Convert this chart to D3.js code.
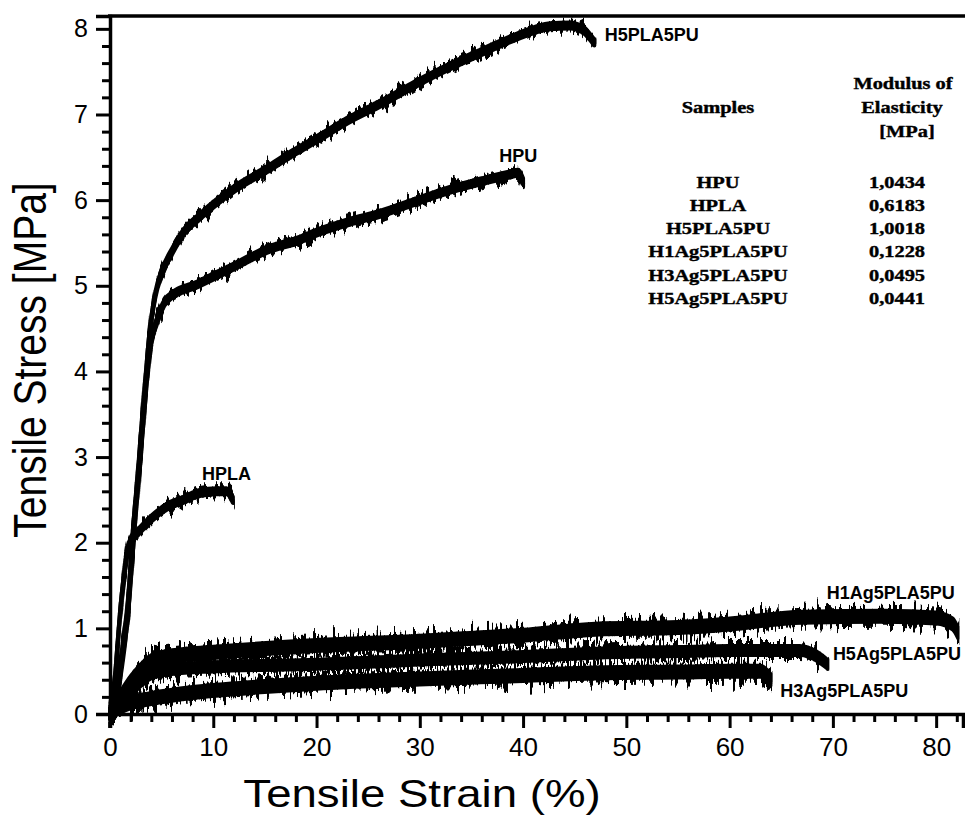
<!DOCTYPE html>
<html>
<head>
<meta charset="utf-8">
<script src="https://cdn.jsdelivr.net/npm/d3@7"></script>
<style>
  body { margin: 0; background: #fff; }
  svg { display: block; }
  .tick text { font-family: "Liberation Sans", Arial, sans-serif; }
</style>
</head>
<body>
<script>
// stress-strain curves, [strain %, stress MPa]
var h5pla5pu = [[0,0],[0.7,0.35],[1.3,0.85],[1.75,1.33],[2.2,2.1],[2.7,2.8],[3.1,3.43],[3.5,4.0],[3.8,4.4],[4.4,4.9],[5,5.15],[6.1,5.42],[7.1,5.62],[8.7,5.81],[11.9,6.12],[15.2,6.36],[17.7,6.55],[20,6.71],[23,6.93],[26.4,7.14],[29.5,7.35],[32.9,7.56],[36,7.73],[39.4,7.91],[42.6,8.03],[44.5,8.04],[45.8,7.99],[46.9,7.84]];
var hpu = [[0.3,0],[1.0,0.45],[1.5,0.9],[1.9,1.4],[2.35,2.15],[2.85,2.85],[3.25,3.45],[3.6,3.95],[3.9,4.3],[4.5,4.57],[5.5,4.84],[8.7,5.03],[11.9,5.22],[15.2,5.42],[18.4,5.54],[20,5.62],[23,5.74],[26.4,5.85],[29.5,5.98],[32.9,6.12],[36,6.22],[38.7,6.3],[39.5,6.32],[40,6.22]];
var hpla = [[0,0],[0.5,0.45],[1.0,1.2],[1.5,1.75],[2.1,2.05],[2.6,2.11],[3.9,2.27],[5.5,2.42],[7.1,2.5],[8.7,2.58],[10.3,2.6],[11.3,2.6],[11.9,2.5]];
var h1ag = [[0,0],[1,0.2],[2,0.38],[3,0.52],[4,0.62],[6,0.68],[10,0.72],[20,0.8],[30,0.85],[40,0.92],[47,0.99],[55,1.01],[60,1.05],[67,1.13],[75,1.14],[80,1.12],[81.6,1.05],[82.1,0.95]];
var h5ag = [[0,0],[1,0.12],[2,0.25],[3,0.38],[4,0.47],[6,0.52],[10,0.55],[20,0.58],[30,0.63],[40,0.67],[47,0.71],[55,0.73],[60,0.74],[66.8,0.74],[68.5,0.67],[69.5,0.58]];
var h3ag = [[0,0],[1,0.08],[2,0.13],[4,0.18],[8,0.25],[15,0.32],[20,0.36],[30,0.41],[40,0.45],[47,0.48],[55,0.49],[60,0.5],[63,0.5],[64,0.4]];

var curveLabels = ["H5PLA5PU", "HPU", "HPLA", "H1Ag5PLA5PU", "H5Ag5PLA5PU", "H3Ag5PLA5PU"];
// label anchor points in data units
var labelPos = [[47.9,7.86],[37.7,6.45],[8.9,2.73],[69.4,1.34],[70.0,0.63],[64.9,0.2]];

// modulus table
var tableSamples = ["HPU", "HPLA", "H5PLA5PU", "H1Ag5PLA5PU", "H3Ag5PLA5PU", "H5Ag5PLA5PU"];
var tableModulus = ["1,0434", "0,6183", "1,0018", "0,1228", "0,0495", "0,0441"];

var xTicks = [0,10,20,30,40,50,60,70,80];
var yTicks = [0,1,2,3,4,5,6,7,8];

var W = 965, H = 826;
var svg = d3.select("body").append("svg").attr("width", W).attr("height", H);

var x = d3.scaleLinear().domain([0, 82.6]).range([110, 963]);
var y = d3.scaleLinear().domain([0, 8.15]).range([714, 16]);

// rough edge filters for the noisy traces (vertical jitter only)
var defs = svg.append("defs");
function noiseFilter(id, freq, amp, seed) {
  var f = defs.append("filter").attr("id", id)
      .attr("x", "-5%").attr("y", "-40%").attr("width", "110%").attr("height", "180%");
  f.append("feTurbulence").attr("type", "fractalNoise").attr("baseFrequency", freq)
      .attr("numOctaves", 2).attr("seed", seed).attr("result", "t");
  f.append("feColorMatrix").attr("in", "t").attr("type", "matrix")
      .attr("values", "0 0 0 0 0.5  0 1 0 0 0  0 0 1 0 0  0 0 0 0 1").attr("result", "m");
  f.append("feDisplacementMap").attr("in", "SourceGraphic").attr("in2", "m")
      .attr("scale", amp).attr("xChannelSelector", "R").attr("yChannelSelector", "G");
}
noiseFilter("noisyA", "0.3 0.03", 24, 3);
noiseFilter("noisyB", "0.3 0.03", 40, 7);

var curves = [
  {d: h5pla5pu, h: 3, sw: 4, f: "noisyA"},
  {d: hpu, h: 3, sw: 4, f: "noisyA"},
  {d: hpla, h: 3, sw: 4, f: "noisyA"},
  {d: h1ag, h: 6, sw: 3, f: "noisyB"},
  {d: h5ag, h: 5, sw: 3, f: "noisyB"},
  {d: h3ag, h: 6, sw: 3, f: "noisyB"}
];

var plot = svg.append("g");
curves.forEach(function(c) {
  var area = d3.area()
      .x(function(d) { return x(d[0]); })
      .y0(function(d) { return y(d[1]) + c.h; })
      .y1(function(d) { return y(d[1]) - c.h; })
      .curve(d3.curveMonotoneX);
  // solid core
  plot.append("path")
      .datum(c.d)
      .attr("d", area)
      .attr("fill", "#000")
      .attr("stroke", "#000")
      .attr("stroke-width", c.sw)
      .attr("stroke-linejoin", "round");
  // spiky copy on top
  plot.append("path")
      .datum(c.d)
      .attr("d", area)
      .attr("fill", "#000")
      .attr("stroke", "#000")
      .attr("stroke-width", c.sw)
      .attr("stroke-linejoin", "round")
      .attr("filter", "url(#" + c.f + ")");
});

// curve labels
svg.append("g").selectAll("text")
  .data(curveLabels)
  .enter().append("text")
  .attr("x", function(d, i) { return x(labelPos[i][0]); })
  .attr("y", function(d, i) { return y(labelPos[i][1]); })
  .attr("font-family", "Liberation Sans, Arial, sans-serif")
  .attr("font-weight", "bold")
  .attr("font-size", 18)
  .attr("fill", "#000")
  .text(function(d) { return d; });

// axes
var xAxis = svg.append("g").attr("transform", "translate(0,714)")
  .call(d3.axisBottom(x).tickValues(xTicks).tickSize(14).tickPadding(10).tickFormat(d3.format("d")));
var xMinor = svg.append("g").attr("transform", "translate(0,714)")
  .call(d3.axisBottom(x).tickValues(d3.range(0, 83, 2).filter(function(v) { return v % 10 != 0; })).tickSize(8).tickFormat(""));
var yAxis = svg.append("g").attr("transform", "translate(110,0)")
  .call(d3.axisLeft(y).tickValues(yTicks).tickSize(14).tickPadding(8).tickFormat(d3.format("d")));
var yMinor = svg.append("g").attr("transform", "translate(110,0)")
  .call(d3.axisLeft(y).tickValues(d3.range(0, 8.1, 0.2).filter(function(v) { return Math.abs(v - Math.round(v)) > 0.01; })).tickSize(8).tickFormat(""));

[xAxis, xMinor, yAxis, yMinor].forEach(function(a) {
  a.select(".domain").attr("stroke-width", 3.5).attr("stroke", "#000");
  a.selectAll(".tick line").attr("stroke-width", 3).attr("stroke", "#000");
});
xMinor.select(".domain").remove();
yMinor.select(".domain").remove();
xAxis.selectAll(".tick text").attr("font-size", 26).attr("fill", "#000");
yAxis.selectAll(".tick text").attr("font-size", 25).attr("fill", "#000");

// top frame line
svg.append("line").attr("x1", 108).attr("x2", 965).attr("y1", 16).attr("y2", 16)
  .attr("stroke", "#000").attr("stroke-width", 3.5);

// axis titles
svg.append("text")
  .attr("transform", "translate(422,807) scale(1.2,1)")
  .attr("text-anchor", "middle")
  .attr("font-family", "Liberation Sans, Arial, sans-serif")
  .attr("font-size", 38)
  .text("Tensile Strain (%)");
svg.append("text")
  .attr("transform", "translate(46,360) rotate(-90) scale(1,1.2)")
  .attr("text-anchor", "middle")
  .attr("font-family", "Liberation Sans, Arial, sans-serif")
  .attr("font-size", 39)
  .text("Tensile Stress [MPa]");

// modulus table
var tbl = svg.append("g")
  .attr("font-family", "Liberation Serif, Times New Roman, serif")
  .attr("font-weight", "bold")
  .attr("font-size", 17)
  .attr("text-anchor", "middle")
  .attr("fill", "#000")
  .attr("stroke", "#000")
  .attr("stroke-width", 0.4);
function cell(txt, cx, cy) {
  tbl.append("text").attr("transform", "translate(" + cx + "," + cy + ") scale(1.2,1)").text(txt);
}
cell("Samples", 718, 113);
cell("Modulus of", 903, 89);
cell("Elasticity", 902, 113);
cell("[MPa]", 907, 137);
tableSamples.forEach(function(s, i) { cell(s, 718, 187.5 + i * 23.3); });
tableModulus.forEach(function(m, i) { cell(m, 897, 187.5 + i * 23.3); });
</script>
</body>
</html>
